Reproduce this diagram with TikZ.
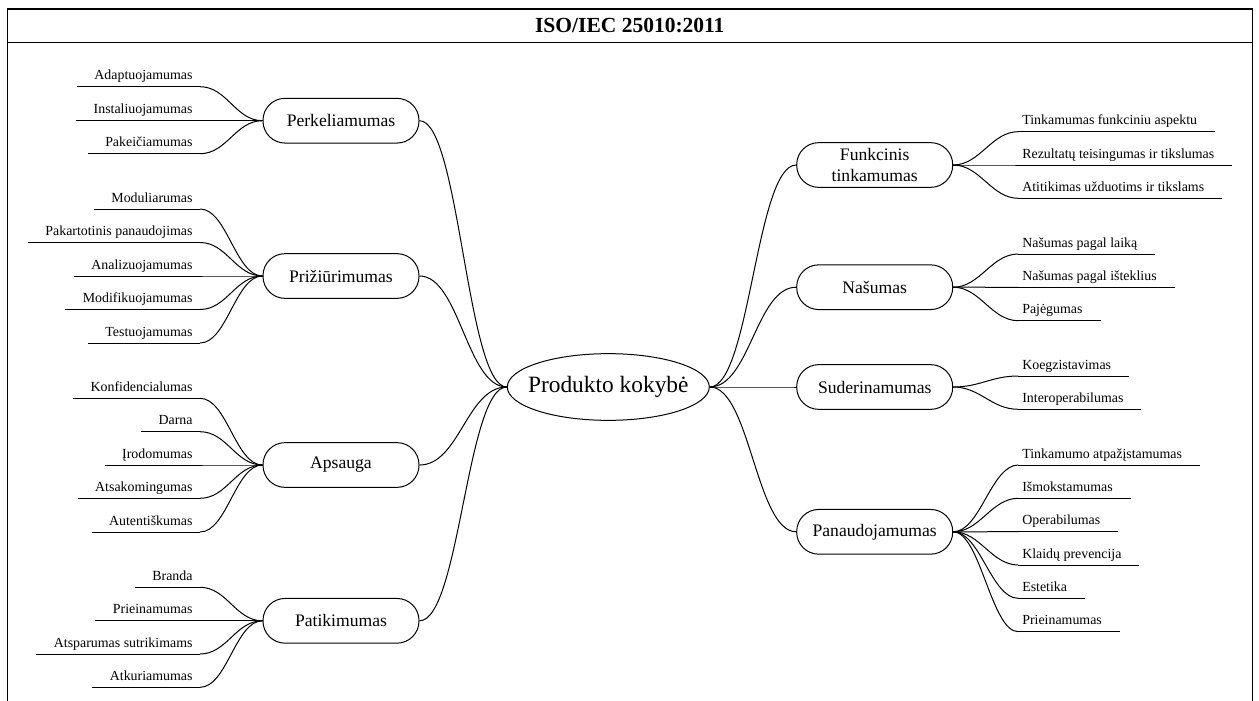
\documentclass[tikz,border=0pt]{standalone}
\usepackage{fontspec}
\setmainfont{Liberation Serif}
\usetikzlibrary{shapes.geometric}
\begin{document}
\begin{tikzpicture}[x=1pt,y=-1pt,line width=1pt,
  topic/.style={draw, rounded corners=22pt, minimum width=156pt, minimum height=44.7pt,
    inner sep=2pt, align=center, font=\fontsize{17.6}{20.5}\selectfont},
  core/.style={draw, ellipse, minimum width=202pt, minimum height=66.7pt, inner sep=0pt,
    font=\fontsize{23.4}{28}\selectfont},
  leaf/.style={inner xsep=0pt, inner ysep=0pt, text depth=6.5pt, font=\fontsize{13.9}{17}\selectfont},
  leafL/.style={leaf, anchor=south east,
    execute at begin node={\hspace*{17pt}}, execute at end node={\hspace*{7pt}}},
  leafR/.style={leaf, anchor=south west,
    execute at begin node={\hspace*{3.5pt}}, execute at end node={\hspace*{17.5pt}}},
  title/.style={font=\bfseries\fontsize{21.5}{25}\selectfont, inner sep=0pt},
]
\useasboundingbox (0,0) rectangle (1259,701);

% frame and heading
\draw[line width=1.2pt] (7.3,702) -- (7.3,9) -- (1252.3,9) -- (1252.3,702);
\draw[line width=1.2pt] (7.3,42.3) -- (1252.3,42.3);
\node[title] (head) at (629.8,26) {ISO/IEC 25010:2011};

% central characteristic (text box kept narrow so the ellipse keeps its size)
\node[core] (pk) at (608.3,387) {\makebox[140pt]{Produkto kokybė}};

% main characteristics
\node[topic] (perk) at (341,120.7) {Perkeliamumas};
\node[topic] (priz) at (341,276) {Prižiūrimumas};
\node[topic] (aps)  at (341,465) {Apsauga};
\node[topic] (pat)  at (341,620.8) {Patikimumas};
\node[topic] (funk) at (874.7,165) {Funkcinis\\tinkamumas};
\node[topic] (nas)  at (874.7,287.2) {Našumas};
\node[topic] (sud)  at (874.7,387) {Suderinamumas};
\node[topic] (pan)  at (874.7,531.8) {Panaudojamumas};

% sub-characteristics, left side
\node[leafL] (l11) at (200,86.7)  {Adaptuojamumas};
\node[leafL] (l12) at (200,120.7) {Instaliuojamumas};
\node[leafL] (l13) at (200,153.7) {Pakeičiamumas};

\node[leafL] (l21) at (200,209)   {Moduliarumas};
\node[leafL] (l22) at (200,242.5) {Pakartotinis panaudojimas};
\node[leafL] (l23) at (200,276)   {Analizuojamumas};
\node[leafL] (l24) at (200,309.5) {Modifikuojamumas};
\node[leafL] (l25) at (200,343)   {Testuojamumas};

\node[leafL] (l31) at (200,398.3) {Konfidencialumas};
\node[leafL] (l32) at (200,431.7) {Darna};
\node[leafL] (l33) at (200,465)   {Įrodomumas};
\node[leafL] (l34) at (200,498.3) {Atsakomingumas};
\node[leafL] (l35) at (200,532)   {Autentiškumas};

\node[leafL] (l41) at (200,587.3) {Branda};
\node[leafL] (l42) at (200,620.8) {Prieinamumas};
\node[leafL] (l43) at (200,654)   {Atsparumas sutrikimams};
\node[leafL] (l44) at (200,687.3) {Atkuriamumas};

% sub-characteristics, right side
\node[leafR] (r11) at (1018.3,131.7) {Tinkamumas funkciniu aspektu};
\node[leafR] (r12) at (1018.3,165)   {Rezultatų teisingumas ir tikslumas};
\node[leafR] (r13) at (1018.3,198.3) {Atitikimas užduotims ir tikslams};

\node[leafR] (r21) at (1018.3,254)   {Našumas pagal laiką};
\node[leafR] (r22) at (1018.3,287.3) {Našumas pagal išteklius};
\node[leafR] (r23) at (1018.3,320.7) {Pajėgumas};

\node[leafR] (r31) at (1018.3,376)   {Koegzistavimas};
\node[leafR] (r32) at (1018.3,409.3) {Interoperabilumas};

\node[leafR] (r41) at (1018.3,465)   {Tinkamumo atpažįstamumas};
\node[leafR] (r42) at (1018.3,498.3) {Išmokstamumas};
\node[leafR] (r43) at (1018.3,531.7) {Operabilumas};
\node[leafR] (r44) at (1018.3,565)   {Klaidų prevencija};
\node[leafR] (r45) at (1018.3,598.3) {Estetika};
\node[leafR] (r46) at (1018.3,631.7) {Prieinamumas};

% underlines of the sub-characteristics
\foreach \n in {l11,l12,l13,l21,l22,l23,l24,l25,l31,l32,l33,l34,l35,l41,l42,l43,l44,
                r11,r12,r13,r21,r22,r23,r31,r32,r41,r42,r43,r44,r45,r46}
  \draw (\n.south west) -- (\n.south east);

% centre to main characteristics
\foreach \t in {perk,priz,aps,pat}
  \draw (pk.west) .. controls +(-40,0) and +(40,0) .. (\t.east);
\foreach \t in {funk,nas,sud,pan}
  \draw (pk.east) .. controls +(40,0) and +(-40,0) .. (\t.west);

% main characteristics to sub-characteristics
\foreach \t/\ls in {perk/{l11,l12,l13}, priz/{l21,l22,l23,l24,l25},
                    aps/{l31,l32,l33,l34,l35}, pat/{l41,l42,l43,l44}}
  \foreach \l in \ls
    \draw (\t.west) .. controls +(-27,0) and +(27,0) .. (\l.south east);
\foreach \t/\ls in {funk/{r11,r12,r13}, nas/{r21,r22,r23}, sud/{r31,r32},
                    pan/{r41,r42,r43,r44,r45,r46}}
  \foreach \l in \ls
    \draw (\t.east) .. controls +(27,0) and +(-27,0) .. (\l.south west);
\end{tikzpicture}
\end{document}
